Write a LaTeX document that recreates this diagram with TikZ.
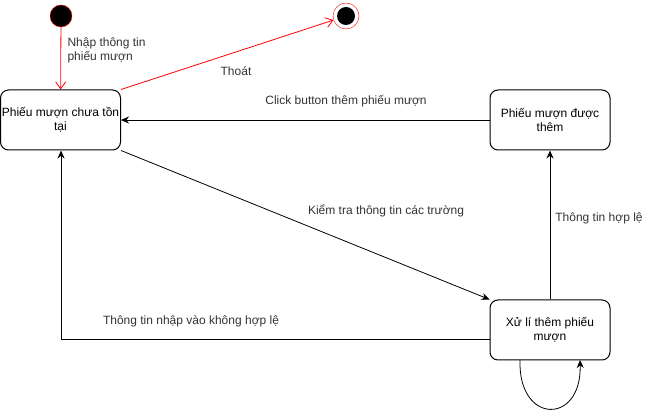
\documentclass[tikz,border=0pt]{standalone}
\usepackage{fontspec}
\setmainfont{Liberation Sans}
\usetikzlibrary{arrows.meta}
\begin{document}
\begin{tikzpicture}[x=1pt,y=-1pt,
  state/.style={draw,rounded corners=8pt,minimum width=120pt,minimum height=60pt,align=center,inner sep=1pt,font=\fontsize{12}{14}\selectfont,line width=1pt},
  lbl/.style={font=\fontsize{12}{14}\selectfont,align=center,text=black!80},
  blk/.style={-{Stealth[length=8pt,width=7pt]},line width=0.8pt},
  redarr/.style={red,-{Straight Barb[length=7pt,width=10pt]},line width=0.8pt}]
\useasboundingbox (0,0) rectangle (651,411);
\node[circle,fill=black,draw=red,minimum size=22pt,inner sep=0pt] (init) at (61,16) {};
\node[circle,draw=red,minimum size=26pt,inner sep=0pt] (final) at (346,16) {};
\node[circle,fill=black,minimum size=18pt,inner sep=0pt] at (346,16) {};
\node[state] (A) at (60.5,120) {Phiếu mượn chưa tồn\\tại};
\node[state] (B) at (550,120) {Phiếu mượn được\\thêm};
\node[state] (C) at (550,330) {Xử lí thêm phiếu\\mượn};
\coordinate (cl) at (61,339);
\draw[redarr] (init) -- (A);
\node[lbl,align=left,anchor=west] at (64,50) {Nhập thông tin\\phiếu mượn};
\draw[redarr] (A.north east) -- (final);
\node[lbl] at (236,71) {Thoát};
\draw[blk] (B.west) -- (A.east);
\node[lbl] at (346,101) {Click button thêm phiếu mượn};
\draw[blk] (A.south east) -- (C.north west);
\node[lbl] at (386,211) {Kiểm tra thông tin các trường};
\draw[blk] (C.north) -- (B.south);
\node[lbl] at (599,218) {Thông tin hợp lệ};
\draw[blk] (C.west |- cl) -- (cl) -- (A.south -| cl);
\node[lbl] at (191,321) {Thông tin nhập vào không hợp lệ};
\coordinate (s1) at (520,360);
\coordinate (s2) at (580,360);
\draw[blk] (s1) .. controls (518,425) and (582,425) .. (s2);
\end{tikzpicture}
\end{document}
